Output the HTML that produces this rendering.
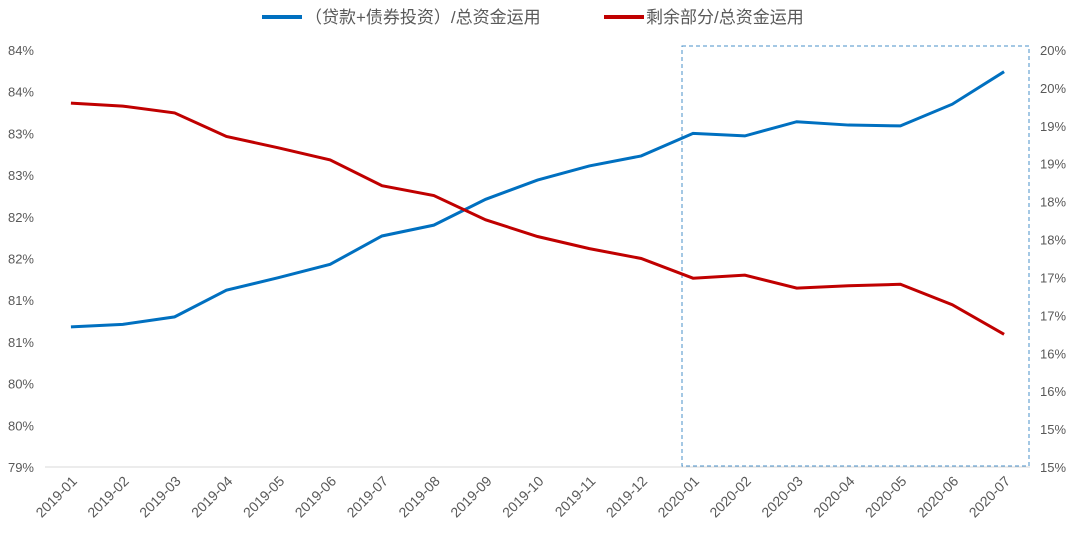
<!DOCTYPE html>
<html><head><meta charset="utf-8"><style>
body{margin:0;background:#fff;}
svg text{font-family:"Liberation Sans","Noto Sans CJK SC",sans-serif;}
</style></head><body>
<svg id="c" width="1080" height="539"></svg>
<script>
const categories=["2019-01","2019-02","2019-03","2019-04","2019-05","2019-06","2019-07","2019-08","2019-09","2019-10","2019-11","2019-12","2020-01","2020-02","2020-03","2020-04","2020-05","2020-06","2020-07"];
const blueValues=[80.68,80.71,80.80,81.12,81.27,81.43,81.77,81.90,82.21,82.44,82.61,82.73,83.00,82.97,83.14,83.10,83.09,83.35,83.74];
const redValues=[19.30,19.26,19.17,18.86,18.71,18.55,18.21,18.08,17.76,17.54,17.38,17.25,16.99,17.03,16.86,16.89,16.91,16.64,16.25];
const leftTicks=[79,79.5,80,80.5,81,81.5,82,82.5,83,83.5,84];
const leftTickLabels=["79%","80%","80%","81%","81%","82%","82%","83%","83%","84%","84%"];
const rightTicks=[14.5,15,15.5,16,16.5,17,17.5,18,18.5,19,19.5,20];
const rightTickLabels=["15%","15%","16%","16%","17%","17%","18%","18%","19%","19%","20%","20%"];
const seriesNames=["（贷款+债券投资）/总资金运用","剩余部分/总资金运用"];
const NS="http://www.w3.org/2000/svg";
const svg=document.getElementById('c');
const X0=45,X1=1030,Y0=50,Y1=467;
const step=(X1-X0)/categories.length;
const x=i=>X0+step*(i+0.5);
const yL=v=>Y1-(v-79)/(84-79)*(Y1-Y0);
const yR=v=>Y1-(v-14.5)/(20-14.5)*(Y1-Y0);
function el(t,a,txt){const e=document.createElementNS(NS,t);for(const k in a)e.setAttribute(k,a[k]);if(txt!==undefined)e.textContent=txt;svg.appendChild(e);return e;}
let e;
e=el('line',{x1:X0,y1:Y1,x2:X1,y2:Y1,stroke:'#d9d9d9','stroke-width':1});


leftTicks.forEach((v,i)=>{e=el('text',{x:34,y:yL(v)+5,'text-anchor':'end','font-size':13,fill:'#595959'},leftTickLabels[i]);

});
rightTicks.forEach((v,i)=>{e=el('text',{x:1040,y:yR(v)+5,'font-size':13,fill:'#595959'},rightTickLabels[i]);

});
categories.forEach((c,i)=>{const tx=x(i)+7,ty=Y1+15;e=el('text',{x:tx,y:ty,'text-anchor':'end','font-size':14,fill:'#595959',transform:`rotate(-45 ${tx} ${ty})`},c);

});
e=el('rect',{x:682,y:46,width:347,height:420,fill:'none',stroke:'#4a90c8','stroke-width':1,'stroke-dasharray':'4,3'});


e=el('polyline',{points:blueValues.map((v,i)=>x(i)+','+yL(v)).join(' '),fill:'none',stroke:'#0070c0','stroke-width':3});


e=el('polyline',{points:redValues.map((v,i)=>x(i)+','+yR(v)).join(' '),fill:'none',stroke:'#c00000','stroke-width':3});


e=el('line',{x1:262,y1:17,x2:302,y2:17,stroke:'#0070c0','stroke-width':4});


e=el('text',{x:305,y:23,'font-size':17,fill:'#595959'},seriesNames[0]);


e=el('line',{x1:604,y1:17,x2:644,y2:17,stroke:'#c00000','stroke-width':4});


e=el('text',{x:646,y:23,'font-size':17,fill:'#595959'},seriesNames[1]);


</script>
</body></html>
